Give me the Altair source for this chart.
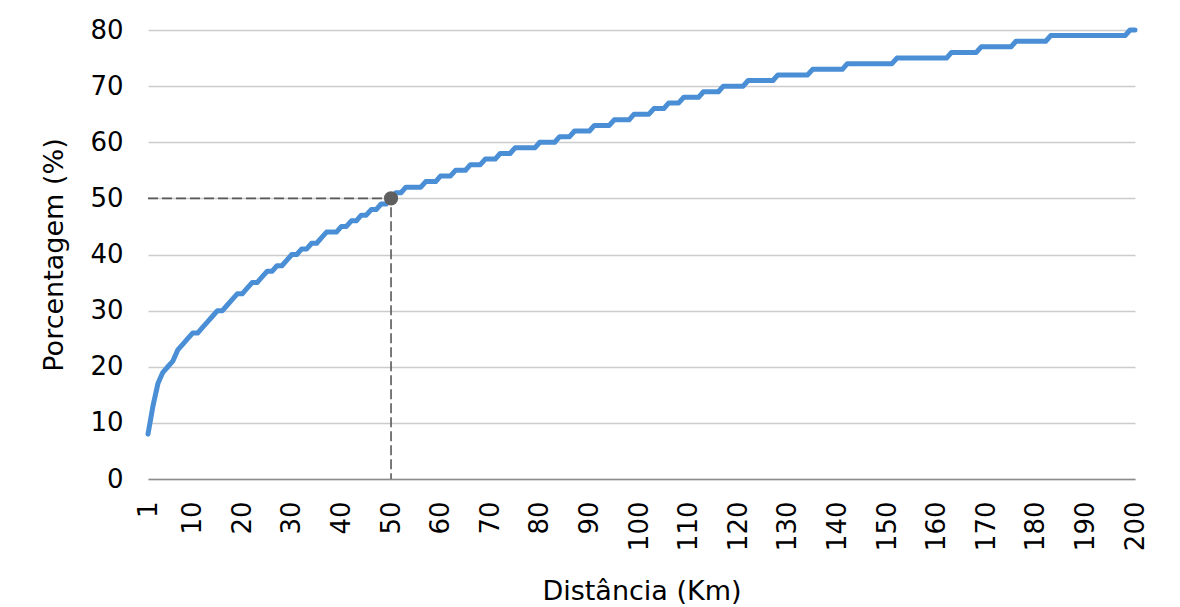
import altair as alt
import pandas as pd

# Distance (km) categories 1..200 and cumulative percentage
distance_km = list(range(1, 201))
percentage = [
    8, 13, 17, 19, 20, 21, 23, 24, 25, 26,
    26, 27, 28, 29, 30, 30, 31, 32, 33, 33,
    34, 35, 35, 36, 37, 37, 38, 38, 39, 40,
    40, 41, 41, 42, 42, 43, 44, 44, 44, 45,
    45, 46, 46, 47, 47, 48, 48, 49, 49, 50,
    51, 51, 52, 52, 52, 52, 53, 53, 53, 54,
    54, 54, 55, 55, 55, 56, 56, 56, 57, 57,
    57, 58, 58, 58, 59, 59, 59, 59, 59, 60,
    60, 60, 60, 61, 61, 61, 62, 62, 62, 62,
    63, 63, 63, 63, 64, 64, 64, 64, 65, 65,
    65, 65, 66, 66, 66, 67, 67, 67, 68, 68,
    68, 68, 69, 69, 69, 69, 70, 70, 70, 70,
    70, 71, 71, 71, 71, 71, 71, 72, 72, 72,
    72, 72, 72, 72, 73, 73, 73, 73, 73, 73,
    73, 74, 74, 74, 74, 74, 74, 74, 74, 74,
    74, 75, 75, 75, 75, 75, 75, 75, 75, 75,
    75, 75, 76, 76, 76, 76, 76, 76, 77, 77,
    77, 77, 77, 77, 77, 78, 78, 78, 78, 78,
    78, 78, 79, 79, 79, 79, 79, 79, 79, 79,
    79, 79, 79, 79, 79, 79, 79, 79, 80, 80,
]

x_ticks = [1, 10, 20, 30, 40, 50, 60, 70, 80, 90, 100,
           110, 120, 130, 140, 150, 160, 170, 180, 190, 200]
y_ticks = [0, 10, 20, 30, 40, 50, 60, 70, 80]

# Highlighted point (median distance)
marker_km = 50
marker_pct = 50
guide_km = [1, marker_km, marker_km]
guide_pct = [marker_pct, marker_pct, 0]
guide_order = [0, 1, 2]

FONT = "DejaVu Sans"

df = pd.DataFrame({"km": distance_km, "pct": percentage})
df_guide = pd.DataFrame({"km": guide_km, "pct": guide_pct, "o": guide_order})
df_point = pd.DataFrame({"km": [marker_km], "pct": [marker_pct]})

x_scale = alt.Scale(domain=[1, 200], nice=False, zero=False)
y_scale = alt.Scale(domain=[0, 80], nice=False)

x_enc = alt.X(
    "km:Q",
    scale=x_scale,
    axis=alt.Axis(
        values=x_ticks,
        title="Distância (Km)",
        labelAngle=270,
        labelAlign="right",
        labelBaseline="middle",
        labelPadding=22,
        ticks=False,
        grid=False,
        domain=True,
        domainColor="#8c8c8c",
        domainWidth=1.5,
        labelFont=FONT,
        labelFontSize=26,
        labelColor="#000000",
        titleFont=FONT,
        titleFontSize=27,
        titleFontWeight="normal",
        titleColor="#000000",
        titlePadding=28,
        labelOverlap=False,
        labelFlush=False,
    ),
)
y_enc = alt.Y(
    "pct:Q",
    scale=y_scale,
    axis=alt.Axis(
        values=y_ticks,
        title="Porcentagem (%)",
        ticks=False,
        grid=True,
        gridColor="#cccccc",
        gridWidth=1.3,
        domain=False,
        labelPadding=25,
        labelFont=FONT,
        labelFontSize=26,
        labelColor="#000000",
        titleFont=FONT,
        titleFontSize=27,
        titleFontWeight="normal",
        titleColor="#000000",
        titlePadding=21,
        labelOverlap=False,
    ),
)

guide = alt.Chart(df_guide).mark_line(
    color="#595959", strokeWidth=1.6, strokeDash=[10, 4]
).encode(
    x=alt.X("km:Q", scale=x_scale),
    y=alt.Y("pct:Q", scale=y_scale),
    order="o:O",
)

line = alt.Chart(df).mark_line(
    color="#4a8fd6", strokeWidth=5, strokeCap="round", strokeJoin="round"
).encode(x=x_enc, y=y_enc)

point = alt.Chart(df_point).mark_circle(
    color="#5f5f5f", size=200, opacity=1
).encode(
    x=alt.X("km:Q", scale=x_scale),
    y=alt.Y("pct:Q", scale=y_scale),
)

chart = (
    alt.layer(line, guide, point)
    .properties(
        width=987,
        height=449,
        autosize=alt.AutoSizeParams(type="none"),
        padding={"left": 140, "top": 22, "right": 29, "bottom": 128},
        background="#ffffff",
    )
    .configure_view(stroke=None)
)

chart.save("out.html", embed_options={"renderer": "svg", "actions": False})
